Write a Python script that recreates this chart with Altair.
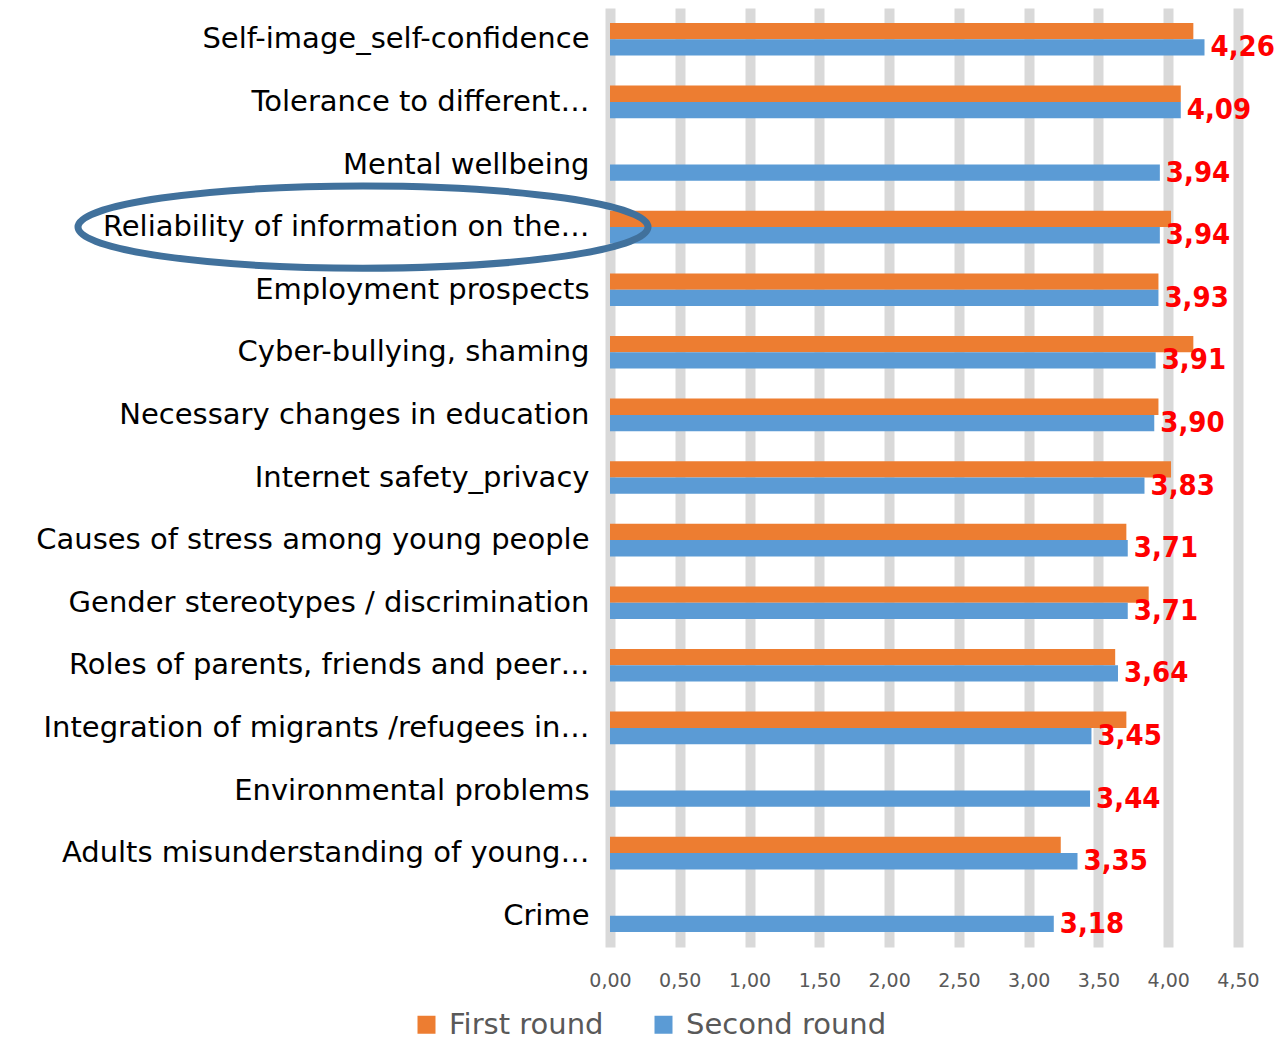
import altair as alt
import pandas as pd

categories = [
    "Self-image_self-confidence",
    "Tolerance to different…",
    "Mental wellbeing",
    "Reliability of information on the…",
    "Employment prospects",
    "Cyber-bullying, shaming",
    "Necessary changes in education",
    "Internet safety_privacy",
    "Causes of stress among young people",
    "Gender stereotypes / discrimination",
    "Roles of parents, friends and peer…",
    "Integration of migrants /refugees in…",
    "Environmental problems",
    "Adults misunderstanding of young…",
    "Crime",
]
first_round = [4.18, 4.09, None, 4.02, 3.93, 4.18, 3.93, 4.02, 3.70, 3.86, 3.62, 3.70, None, 3.23, None]
second_round = [4.26, 4.09, 3.94, 3.94, 3.93, 3.91, 3.90, 3.83, 3.71, 3.71, 3.64, 3.45, 3.44, 3.35, 3.18]
series_names = ["First round", "Second round"]
series_colors = ["#ED7D31", "#5B9BD5"]
x_ticks = [0, 0.5, 1.0, 1.5, 2.0, 2.5, 3.0, 3.5, 4.0, 4.5]
highlighted = ["Reliability of information on the…"]

rows = []
for c, f, s in zip(categories, first_round, second_round):
    rows.append({"category": c, "series": "First round", "value": f})
    rows.append({"category": c, "series": "Second round", "value": s})
df = pd.DataFrame(rows)

y_enc = alt.Y(
    "category:N",
    sort=categories,
    scale=alt.Scale(paddingInner=0.48, paddingOuter=0.24),
    axis=alt.Axis(
        title=None, domain=False, ticks=False,
        labelFont="DejaVu Sans", labelFontSize=29, labelColor="#000000",
        labelPadding=21, labelLimit=700,
    ),
)
yoff = alt.YOffset("series:N", sort=series_names,
                   scale=alt.Scale(domain=series_names, paddingInner=0))
x_enc = alt.X(
    "value:Q",
    scale=alt.Scale(domain=[0, 4.5], nice=False),
    axis=alt.Axis(
        title=None, values=x_ticks, grid=True, gridColor="#D9D9D9", gridWidth=10,
        domain=False, ticks=False, labelFlush=False,
        labelExpr="replace(format(datum.value, '.2f'), '.', ',')",
        labelFont="DejaVu Sans", labelFontSize=19, labelColor="#595959", labelPadding=24,
    ),
)

base = alt.Chart(df)

bars = base.mark_bar().encode(
    x=x_enc,
    y=y_enc,
    yOffset=yoff,
    color=alt.Color(
        "series:N",
        scale=alt.Scale(domain=series_names, range=series_colors),
        legend=alt.Legend(
            title=None, orient="none", legendX=-198, legendY=1002,
            direction="horizontal", symbolType="square", symbolSize=324,
            symbolStrokeWidth=0, labelFont="DejaVu Sans", labelFontSize=29,
            labelColor="#595959", columnPadding=45, labelOffset=8, padding=0,
            labelLimit=500,
        ),
    ),
)

labels = base.transform_filter(
    alt.datum.series == "Second round"
).transform_calculate(
    lbl="replace(format(datum.value, '.2f'), '.', ',')"
).mark_text(
    align="left", baseline="middle", dx=6,
    font="DejaVu Sans Condensed, DejaVu Sans, sans-serif",
    fontWeight="bold", fontSize=29, color="#FF0000",
).encode(
    x="value:Q",
    y=alt.Y("category:N", sort=categories),
    yOffset=alt.YOffset("series:N", sort=series_names),
    text="lbl:N",
)

k = 0.5523
b = 0.144
ellipse_path = (
    f"M -1 0 C -1 {-k*b:.4f} {-k} {-b} 0 {-b} "
    f"C {k} {-b} 1 {-k*b:.4f} 1 0 "
    f"C 1 {k*b:.4f} {k} {b} 0 {b} "
    f"C {-k} {b} -1 {k*b:.4f} -1 0 Z"
)
ellipse = alt.Chart(pd.DataFrame({"category": highlighted})).mark_point(
    shape=ellipse_path, size=570 ** 2, filled=False, stroke="#41719C",
    strokeWidth=7, opacity=1,
).encode(
    y=alt.Y("category:N", sort=categories),
    x=alt.value(-247),
)

chart = alt.layer(bars, labels, ellipse).properties(
    width=628, height=939,
    autosize=alt.AutoSizeParams(type="none"),
    padding={"left": 602, "top": 0, "right": 37, "bottom": 96},
).configure_view(stroke=None)

chart.save("out.html", embed_options={"renderer": "svg", "actions": False})
